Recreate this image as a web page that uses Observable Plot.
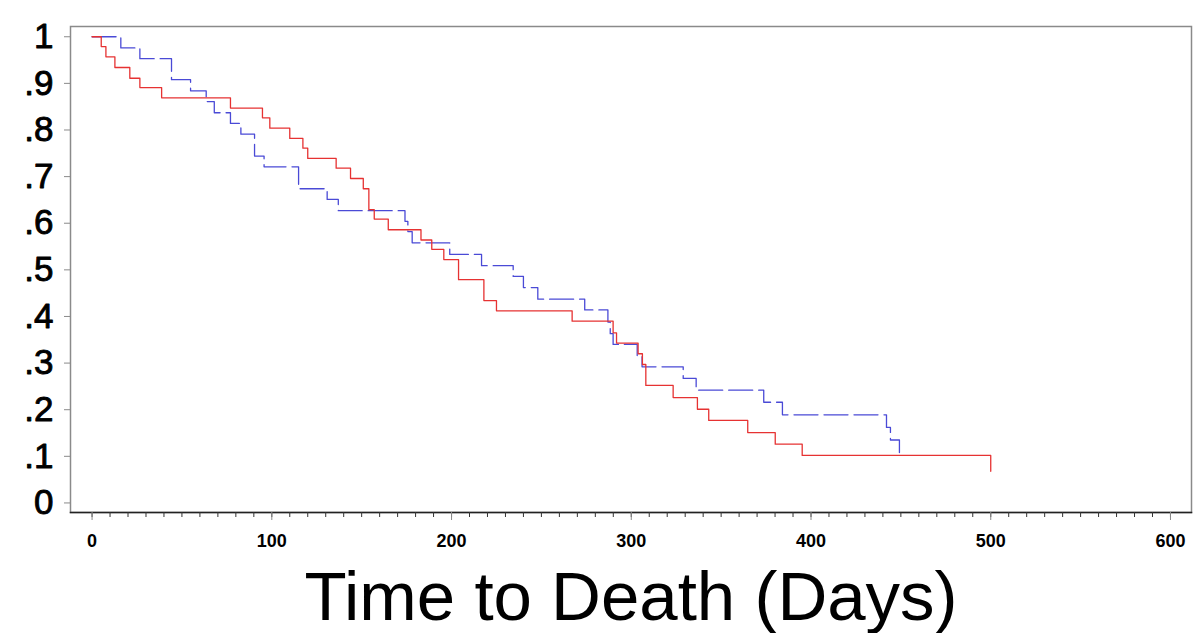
<!DOCTYPE html>
<html>
<head>
<meta charset="utf-8">
<script src="https://cdn.jsdelivr.net/npm/d3@7"></script>
<script src="https://cdn.jsdelivr.net/npm/@observablehq/plot@0.6"></script>
<style>
  html, body { margin: 0; padding: 0; background: #fff; }
  #chart svg { display: block; }
</style>
</head>
<body>
<div id="chart"></div>
<script>
// Group 1 (blue, dashed) Kaplan–Meier steps
const blueDays = [0, 16.0, 26.6, 44.2, 54.8, 63.5, 68.0, 77.0, 82.8, 90.4, 95.7, 114.9, 130.8, 137.0,
  174.1, 175.7, 178.1, 199.0, 216.7, 234.3, 240.0, 248.0, 274.1, 287.0, 288.3, 289.9, 303.3, 306.0,
  328.9, 336.1, 373.7, 384.1, 442.0, 444.2, 449.2];
const blueSurv = [1, 0.976, 0.953, 0.908, 0.884, 0.861, 0.837, 0.814, 0.791, 0.744, 0.721, 0.674, 0.651, 0.627,
  0.604, 0.582, 0.558, 0.533, 0.509, 0.486, 0.462, 0.437, 0.414, 0.388, 0.363, 0.340, 0.316, 0.292,
  0.267, 0.242, 0.216, 0.189, 0.162, 0.135, 0.108];

// Group 2 (red, solid)
const redDays = [0, 5.1, 7.7, 12.7, 21.0, 26.6, 38.7, 77.0, 94.8, 98.9, 110.0, 117.3, 120.0, 135.8, 143.8,
  150.9, 154.0, 157.0, 164.8, 183.0, 189.0, 195.7, 203.9, 218.0, 225.0, 267.1, 289.9, 291.8, 303.8,
  306.2, 308.1, 323.3, 336.8, 343.1, 364.8, 380.1, 395.1, 500.0];
const redSurv = [1, 0.979, 0.957, 0.934, 0.911, 0.891, 0.869, 0.847, 0.826, 0.804, 0.782, 0.761, 0.739, 0.718, 0.696,
  0.674, 0.629, 0.609, 0.586, 0.564, 0.544, 0.522, 0.479, 0.434, 0.412, 0.390, 0.365, 0.343, 0.320,
  0.297, 0.252, 0.226, 0.201, 0.177, 0.151, 0.126, 0.102, 0.068];

const yTicks = [0, 0.1, 0.2, 0.3, 0.4, 0.5, 0.6, 0.7, 0.8, 0.9, 1];
const yTickLabels = ["0", ".1", ".2", ".3", ".4", ".5", ".6", ".7", ".8", ".9", "1"];
const xMajorTicks = [0, 100, 200, 300, 400, 500, 600];
const xMinorTicks = d3.range(0, 601, 10);
const xTitle = ["Time to Death (Days)"];

const blue = blueDays.map((d, i) => ({t: d, s: blueSurv[i]}));
const red = redDays.map((d, i) => ({t: d, s: redSurv[i]}));

const chart = Plot.plot({
  width: 1200,
  height: 633,
  marginLeft: 70,
  marginRight: 9,
  marginTop: 26,
  marginBottom: 121,
  style: {fontFamily: "'Liberation Sans', Arial, Helvetica, sans-serif", background: "#fff", overflow: "visible"},
  x: {domain: [-12, 611.7], axis: null},
  y: {domain: [-0.0205, 1.022], axis: null},
  marks: [
    Plot.frame({stroke: "#8a8a8a", strokeWidth: 1.5}),
    Plot.frame({anchor: "bottom", stroke: "#222", strokeWidth: 1.5}),
    Plot.axisY(yTicks, {
      label: null, tickSize: 6, tickPadding: 11, fontSize: 35, stroke: "#8a8a8a", fill: "#000",
      textStroke: "#000", textStrokeWidth: 0.9,
      tickFormat: d => yTickLabels[yTicks.indexOf(d)]
    }),
    Plot.axisX(xMinorTicks, {label: null, tickSize: 5, stroke: "#333", tickFormat: null, text: null}),
    Plot.axisX(xMajorTicks, {
      label: null, tickSize: 8, tickPadding: 14, fontSize: 18, fontWeight: "bold", stroke: "#8a8a8a", fill: "#000",
      tickFormat: d => String(d)
    }),
    Plot.line(blue, {x: "t", y: "s", curve: "step-after", stroke: "#4a4ad6", strokeWidth: 1.3, strokeDasharray: "24,6"}),
    Plot.line(red, {x: "t", y: "s", curve: "step-after", stroke: "#e63232", strokeWidth: 1.3}),
    Plot.text(xTitle, {frameAnchor: "bottom", lineAnchor: "bottom", dy: 107, fontSize: 69, fill: "#000"})
  ]
});
document.getElementById("chart").appendChild(chart);
</script>
</body>
</html>
